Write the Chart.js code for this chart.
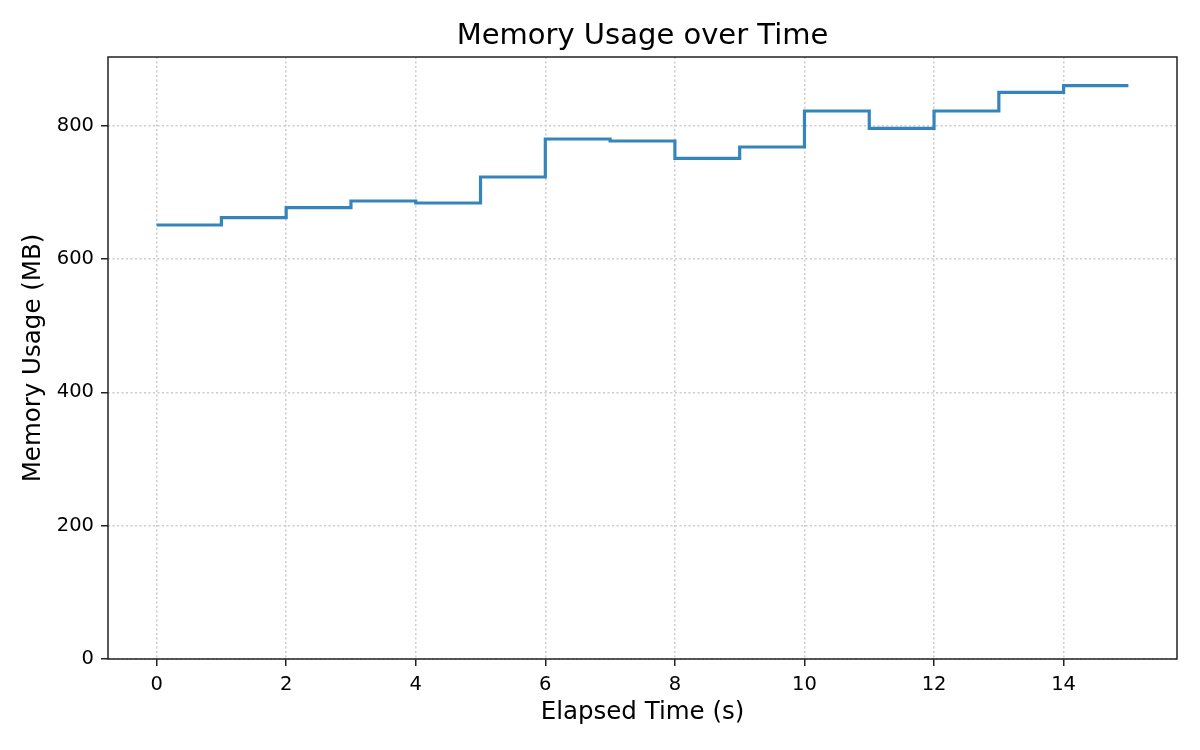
<!DOCTYPE html>
<html>
<head>
<meta charset="utf-8">
<title>Memory Usage over Time</title>
<script src="https://cdn.jsdelivr.net/npm/chart.js@4/dist/chart.umd.min.js"></script>
<style>
  html, body { margin: 0; padding: 0; background: #ffffff; }
  #wrap { width: 1200px; height: 750px; }
</style>
</head>
<body>
<div id="wrap"><canvas id="memChart" width="1200" height="750"></canvas></div>
<script>
// elapsed seconds and memory (MB), step drawn "post"
const elapsedSeconds = [0, 1, 2, 3, 4, 5, 6, 7, 8, 9, 10, 11, 12, 13, 14, 15];
const memoryMB = [651, 662, 677, 687, 684, 723, 780, 777, 751, 768, 822, 796, 822, 850, 860, 860];

const xTickValues = [0, 2, 4, 6, 8, 10, 12, 14];
const yTickValues = [0, 200, 400, 600, 800];

const chartTitle = "Memory Usage over Time";
const FONT = "'DejaVu Sans', sans-serif";

// matplotlib centres the title over the axes, not over the whole canvas
const axesTitle = {
  id: "axesTitle",
  afterDraw(chart) {
    const { ctx, chartArea: a } = chart;
    ctx.save();
    ctx.fillStyle = "#000000";
    ctx.font = "29px " + FONT;
    ctx.textAlign = "center";
    ctx.textBaseline = "alphabetic";
    ctx.fillText(chartTitle, (a.left + a.right) / 2, 44);
    ctx.restore();
  },
};

// box round the axes
const frame = {
  id: "frame",
  afterDatasetsDraw(chart) {
    const { ctx, chartArea: a } = chart;
    ctx.save();
    ctx.strokeStyle = "#222222";
    ctx.lineWidth = 1.5;
    ctx.strokeRect(a.left, a.top, a.right - a.left, a.bottom - a.top);
    ctx.restore();
  },
};

document.addEventListener("DOMContentLoaded", () => {
  const ctx = document.getElementById("memChart").getContext("2d");

  const gridOpts = {
    color: "#cccccc",
    lineWidth: 1.5,
    tickLength: 7,
    tickColor: "#222222",
    tickWidth: 1.5,
    tickBorderDash: [],
  };

  const data = {
    datasets: [
      {
        label: "Memory",
        data: elapsedSeconds.map((t, i) => ({ x: t, y: memoryMB[i] })),
        borderColor: "#3585bc",
        borderWidth: 3.2,
        stepped: "before",
        pointRadius: 0,
        fill: false,
      },
    ],
  };

  const config = {
    type: "line",
    data: data,
    options: {
      responsive: false,
      animation: false,
      devicePixelRatio: 1,
      layout: { padding: { top: 57, left: 0, right: 23, bottom: 0 } },
      plugins: {
        legend: { display: false },
        tooltip: { enabled: false },
        title: { display: false },
      },
      scales: {
        x: {
          type: "linear",
          min: -0.75,
          max: 15.75,
          afterBuildTicks: (scale) => {
            scale.ticks = xTickValues.map((v) => ({ value: v }));
          },
          afterFit: (scale) => {
            scale.height = 91;
          },
          ticks: {
            autoSkip: false,
            maxRotation: 0,
            padding: 7,
            color: "#000000",
            font: { family: FONT, size: 19.5 },
            callback: (v) => String(v),
          },
          grid: gridOpts,
          border: { display: false, dash: [2, 2.5] },
          title: {
            display: true,
            text: "Elapsed Time (s)",
            color: "#000000",
            font: { family: FONT, size: 24.5 },
            padding: { top: 0, bottom: 23 },
          },
        },
        y: {
          min: 0,
          max: 903,
          afterBuildTicks: (scale) => {
            scale.ticks = yTickValues.map((v) => ({ value: v }));
          },
          afterFit: (scale) => {
            scale.width = 108;
          },
          ticks: {
            autoSkip: false,
            padding: 7,
            color: "#000000",
            font: { family: FONT, size: 19.5 },
            callback: (v) => String(v),
          },
          grid: gridOpts,
          border: { display: false, dash: [2, 2.5] },
          title: {
            display: true,
            text: "Memory Usage (MB)",
            color: "#000000",
            font: { family: FONT, size: 24.5 },
            padding: { top: 19, bottom: 0 },
          },
        },
      },
    },
    plugins: [frame, axesTitle],
  };

  new Chart(ctx, config);
});
</script>
</body>
</html>
